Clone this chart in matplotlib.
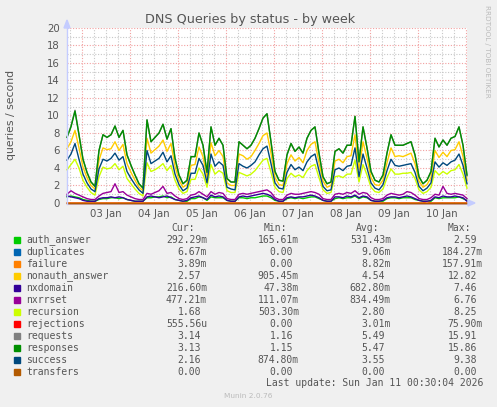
import matplotlib
matplotlib.use("Agg")
import matplotlib.pyplot as plt
from matplotlib.patches import Rectangle, Polygon

# one sample every 2 hours, starting Jan 2 16:30, ending Jan 11 00:30
step_hours = 2
responses = [7.5, 8.7, 10.5, 7.8, 5.0, 3.5, 2.4, 1.9, 6.0, 7.8, 7.5, 7.8, 8.8, 7.5, 8.3, 5.5, 4.3, 3.2, 2.2, 1.7,
             9.5, 7.0, 7.5, 8.0, 9.0, 7.3, 8.5, 5.1, 3.2, 2.2, 2.6, 5.3, 5.3, 8.0, 6.6, 3.5, 8.7, 6.6, 7.4, 6.6,
             2.8, 2.4, 2.4, 7.0, 6.6, 6.2, 6.6, 7.4, 8.5, 9.7, 10.2, 7.0, 3.6, 2.6, 2.5, 5.5, 6.8, 5.9, 6.4, 5.7,
             7.4, 8.3, 8.7, 5.7, 3.0, 2.2, 2.4, 5.9, 6.2, 5.7, 6.6, 6.6, 9.9, 4.7, 8.7, 6.3, 3.6, 2.6, 2.4, 3.2,
             5.7, 7.8, 6.6, 6.6, 6.6, 6.8, 7.0, 5.5, 3.0, 2.2, 2.6, 3.6, 7.4, 6.4, 7.2, 6.6, 7.4, 7.6, 8.7, 6.6, 3.2]
requests = [7.5, 8.8, 10.6, 7.8, 5.0, 3.5, 2.4, 1.9, 6.0, 7.8, 7.5, 7.8, 8.8, 7.5, 8.3, 5.5, 4.3, 3.2, 2.2, 1.7,
            9.5, 7.0, 7.5, 8.0, 9.0, 7.3, 8.5, 5.1, 3.2, 2.2, 2.6, 5.3, 5.3, 8.0, 6.6, 3.5, 8.7, 6.6, 7.4, 6.6,
            2.8, 2.4, 2.4, 7.0, 6.6, 6.2, 6.6, 7.4, 8.5, 9.7, 10.2, 7.0, 3.6, 2.6, 2.5, 5.5, 6.8, 5.9, 6.4, 5.7,
            7.4, 8.3, 8.7, 5.7, 3.0, 2.2, 2.4, 5.9, 6.2, 5.7, 6.6, 6.6, 9.9, 4.7, 8.7, 6.3, 3.6, 2.6, 2.4, 3.2,
            5.7, 7.8, 6.6, 6.6, 6.6, 6.8, 7.0, 5.5, 3.0, 2.2, 2.6, 3.6, 7.4, 6.4, 7.2, 6.6, 7.4, 7.6, 8.7, 6.6, 3.1]
nonauth_answer = [6.2, 7.0, 8.3, 6.3, 4.1, 2.9, 2.0, 1.6, 4.9, 6.3, 6.1, 6.2, 7.0, 6.0, 6.7, 4.5, 3.5, 2.6, 1.8, 1.4,
                  7.4, 5.7, 6.1, 6.5, 7.2, 5.9, 6.8, 4.2, 2.6, 1.8, 2.1, 4.3, 4.4, 6.4, 5.3, 2.9, 6.9, 5.4, 6.0, 5.3,
                  2.3, 2.0, 2.0, 5.6, 5.4, 5.0, 5.3, 6.0, 6.8, 7.7, 8.0, 5.7, 2.9, 2.1, 2.0, 4.5, 5.5, 4.8, 5.2, 4.6,
                  6.0, 6.7, 7.0, 4.6, 2.5, 1.8, 2.0, 4.8, 5.0, 4.6, 5.3, 5.4, 7.8, 3.8, 7.0, 5.1, 2.9, 2.1, 2.0, 2.6,
                  4.6, 6.3, 5.3, 5.4, 5.3, 5.5, 5.7, 4.5, 2.5, 1.8, 2.1, 2.9, 6.0, 5.2, 5.8, 5.3, 6.0, 6.1, 7.0, 5.3, 2.6]
success = [4.9, 5.6, 6.8, 5.0, 3.3, 2.3, 1.6, 1.3, 3.9, 5.0, 4.8, 5.1, 5.7, 4.9, 5.3, 3.6, 2.8, 2.1, 1.5, 1.1,
           6.0, 4.5, 4.8, 5.1, 5.8, 4.7, 5.4, 3.3, 2.1, 1.4, 1.7, 3.4, 3.4, 5.1, 4.3, 2.3, 5.6, 4.2, 4.7, 4.3,
           1.8, 1.6, 1.5, 4.5, 4.2, 4.0, 4.3, 4.7, 5.5, 6.2, 6.5, 4.5, 2.3, 1.7, 1.6, 3.5, 4.4, 3.8, 4.1, 3.7,
           4.7, 5.3, 5.6, 3.7, 1.9, 1.4, 1.5, 3.8, 4.0, 3.7, 4.2, 4.3, 6.3, 3.0, 5.6, 4.0, 2.3, 1.7, 1.5, 2.1,
           3.7, 5.0, 4.3, 4.2, 4.3, 4.4, 4.5, 3.5, 1.9, 1.4, 1.7, 2.3, 4.7, 4.1, 4.6, 4.3, 4.7, 4.9, 5.6, 4.3, 2.2]
recursion = [3.8, 4.4, 5.0, 4.0, 2.6, 1.8, 1.2, 0.9, 3.0, 4.1, 3.9, 4.0, 4.5, 3.8, 4.2, 2.8, 2.2, 1.6, 1.1, 0.8,
             4.6, 3.6, 3.8, 4.1, 4.5, 3.7, 4.3, 2.6, 1.6, 1.1, 1.3, 2.7, 2.7, 4.0, 3.3, 1.8, 4.4, 3.3, 3.7, 3.4,
             1.4, 1.2, 1.2, 3.5, 3.3, 3.1, 3.3, 3.7, 4.3, 4.9, 5.1, 3.5, 1.8, 1.3, 1.2, 2.8, 3.4, 3.0, 3.2, 2.9,
             3.7, 4.2, 4.4, 2.9, 1.5, 1.1, 1.2, 3.0, 3.1, 2.9, 3.3, 3.3, 4.9, 2.4, 4.4, 3.2, 1.8, 1.3, 1.2, 1.6,
             2.9, 3.9, 3.3, 3.3, 3.4, 3.4, 3.5, 2.8, 1.5, 1.1, 1.3, 1.8, 3.7, 3.2, 3.6, 3.3, 3.7, 3.8, 4.4, 3.3, 1.7]
nxrrset = [1.0, 1.4, 1.1, 0.9, 0.7, 0.5, 0.4, 0.4, 0.8, 1.1, 1.2, 1.3, 2.2, 1.2, 1.3, 0.9, 0.7, 0.5, 0.4, 0.4,
           1.1, 1.0, 1.2, 1.4, 1.9, 1.1, 1.2, 0.8, 0.5, 0.4, 0.5, 0.9, 1.0, 1.3, 1.0, 0.7, 1.3, 1.0, 1.2, 1.1,
           0.5, 0.4, 0.4, 1.0, 1.1, 1.0, 1.1, 1.2, 1.3, 1.4, 1.5, 1.2, 0.6, 0.4, 0.4, 0.9, 1.1, 1.0, 1.0, 1.1,
           1.2, 1.3, 1.2, 1.0, 0.5, 0.4, 0.4, 1.0, 1.1, 1.0, 1.2, 1.1, 1.4, 1.0, 1.2, 1.1, 0.6, 0.4, 0.4, 0.5,
           0.9, 1.1, 1.0, 0.9, 1.0, 1.3, 1.2, 0.9, 0.5, 0.4, 0.4, 0.6, 1.0, 0.9, 1.9, 1.1, 1.0, 1.1, 1.0, 0.9, 0.5]
nxdomain = [0.8, 0.7, 0.6, 0.5, 0.3, 0.2, 0.2, 0.2, 0.5, 0.6, 0.6, 0.7, 0.6, 0.7, 0.6, 0.4, 0.3, 0.2, 0.2, 0.2,
            0.7, 0.8, 0.7, 0.6, 0.7, 0.8, 0.6, 0.4, 0.3, 0.2, 0.3, 0.6, 0.7, 0.8, 0.6, 0.4, 0.9, 0.7, 0.8, 0.7,
            0.3, 0.2, 0.2, 0.7, 0.8, 0.7, 0.8, 0.9, 1.0, 1.1, 1.0, 0.8, 0.4, 0.2, 0.2, 0.6, 0.7, 0.6, 0.7, 0.7,
            0.8, 0.9, 0.8, 0.6, 0.3, 0.2, 0.2, 0.7, 0.7, 0.6, 0.8, 0.7, 0.9, 0.6, 0.8, 0.7, 0.3, 0.2, 0.2, 0.3,
            0.6, 0.7, 0.7, 0.6, 0.7, 0.8, 0.7, 0.5, 0.3, 0.2, 0.2, 0.3, 0.7, 0.6, 0.8, 0.7, 0.7, 0.8, 0.7, 0.6, 0.2]
auth_answer = [0.7, 0.8, 0.7, 0.6, 0.4, 0.3, 0.2, 0.2, 0.4, 0.5, 0.5, 0.6, 0.6, 0.5, 0.6, 0.4, 0.3, 0.2, 0.2, 0.2,
               0.6, 0.6, 0.7, 0.7, 0.8, 0.6, 0.7, 0.4, 0.3, 0.2, 0.2, 0.5, 0.5, 0.7, 0.6, 0.3, 0.7, 0.6, 0.6, 0.6,
               0.3, 0.2, 0.2, 0.6, 0.6, 0.5, 0.6, 0.6, 0.7, 0.8, 0.8, 0.6, 0.3, 0.2, 0.2, 0.5, 0.6, 0.5, 0.6, 0.5,
               0.6, 0.7, 0.7, 0.5, 0.3, 0.2, 0.2, 0.5, 0.6, 0.5, 0.6, 0.6, 0.8, 0.5, 0.7, 0.6, 0.3, 0.2, 0.2, 0.2,
               0.5, 0.6, 0.6, 0.5, 0.6, 0.6, 0.6, 0.4, 0.3, 0.2, 0.2, 0.2, 0.6, 0.5, 0.6, 0.6, 0.6, 0.6, 0.7, 0.5, 0.3]

# the near-zero series, sampled coarsely
tiny_hours = [0, 40, 80, 120, 160, 178, 180, 182, 200]
duplicates = [0.01, 0.01, 0.01, 0.01, 0.01, 0.01, 0.01, 0.01, 0.01]
failure = [0.01, 0.01, 0.01, 0.01, 0.01, 0.01, 0.15, 0.01, 0.01]
rejections = [0.0, 0.0, 0.0, 0.0, 0.0, 0.0, 0.0, 0.0, 0.0]
transfers = [0.0, 0.0, 0.0, 0.0, 0.0, 0.0, 0.0, 0.0, 0.0]

day_labels = ["03 Jan", "04 Jan", "05 Jan", "06 Jan", "07 Jan", "08 Jan", "09 Jan", "10 Jan"]

legend_rows = [
    ("auth_answer", "#00CC00", "292.29m", "165.61m", "531.43m", "2.59"),
    ("duplicates", "#0066B3", "6.67m", "0.00", "9.06m", "184.27m"),
    ("failure", "#FF8000", "3.89m", "0.00", "8.82m", "157.91m"),
    ("nonauth_answer", "#FFCC00", "2.57", "905.45m", "4.54", "12.82"),
    ("nxdomain", "#330099", "216.60m", "47.38m", "682.80m", "7.46"),
    ("nxrrset", "#990099", "477.21m", "111.07m", "834.49m", "6.76"),
    ("recursion", "#CCFF00", "1.68", "503.30m", "2.80", "8.25"),
    ("rejections", "#FF0000", "555.56u", "0.00", "3.01m", "75.90m"),
    ("requests", "#808080", "3.14", "1.16", "5.49", "15.91"),
    ("responses", "#008F00", "3.13", "1.15", "5.47", "15.86"),
    ("success", "#00487D", "2.16", "874.80m", "3.55", "9.38"),
    ("transfers", "#B35A00", "0.00", "0.00", "0.00", "0.00"),
]

W, H = 497, 407
fig = plt.figure(figsize=(W / 100, H / 100), dpi=100, facecolor="#F0F0F0")

# plot area 400x175 px at (67, 28)
ax = fig.add_axes([67 / W, (H - 203) / H, 400 / W, 175 / H])
ax.set_facecolor("white")
for s in ax.spines.values():
    s.set_visible(False)
ax.set_xlim(0, 200)
ax.set_ylim(0, 20)

# grid: red at midnights / even values, grey every 6 h / odd values
minor_x = [1.5 + 6 * k for k in range(34)]
for xv in minor_x:
    col = "#F2A0A0" if (xv - 7.5) % 24 == 0 else "#C8C8C8"
    ax.axvline(xv, color=col, lw=0.8, ls=(0, (1, 1.5)), zorder=1)
for yv in range(1, 21):
    col = "#F2A0A0" if yv % 2 == 0 else "#C8C8C8"
    ax.axhline(yv, color=col, lw=0.8, ls=(0, (1, 1.5)), zorder=1)

hours = [i * step_hours for i in range(len(responses))]
series = [
    (hours, auth_answer, "#00CC00"),
    (tiny_hours, duplicates, "#0066B3"),
    (tiny_hours, failure, "#FF8000"),
    (hours, nonauth_answer, "#FFCC00"),
    (hours, nxdomain, "#330099"),
    (hours, nxrrset, "#990099"),
    (hours, recursion, "#CCFF00"),
    (tiny_hours, rejections, "#FF0000"),
    (hours, requests, "#808080"),
    (hours, responses, "#008F00"),
    (hours, success, "#00487D"),
    (tiny_hours, transfers, "#B35A00"),
]
for xs, ys, c in series:
    ax.plot(xs, ys, color=c, lw=1.0, zorder=3, clip_on=False)

ax.set_yticks(range(0, 21, 2))
ax.set_yticklabels([str(v) for v in range(0, 21, 2)])
ax.set_xticks([19.5 + 24 * k for k in range(len(day_labels))])
ax.set_xticklabels(day_labels)
ax.tick_params(axis="both", length=0, labelsize=7.3, labelcolor="#555555")
ax.tick_params(axis="y", pad=5)
ax.tick_params(axis="x", pad=4)

# overlay in pixel coordinates for the text around the graph
ov = fig.add_axes([0, 0, 1, 1], zorder=5)
ov.set_xlim(0, W)
ov.set_ylim(H, 0)
ov.axis("off")

axis_col = "#C4CCFF"
ov.plot([67, 67], [204, 27], color=axis_col, lw=1.0)
ov.add_patch(Polygon([[64, 28], [70, 28], [67, 20]], closed=True, color=axis_col))
ov.add_patch(Polygon([[468, 200], [468, 206], [475, 203]], closed=True, color=axis_col))

ov.text(250, 19, "DNS Queries by status - by week", ha="center", va="center",
        fontsize=9.2, color="#555555")
ov.text(11, 115, "queries / second", rotation=90, ha="center", va="center",
        fontsize=7.8, color="#555555")
ov.text(487, 5, "RRDTOOL / TOBI OETIKER", rotation=270, ha="center", va="top",
        fontsize=5.2, color="#BBBBBB")

mono = "DejaVu Sans Mono"
txt_col = "#555555"
fs = 7.0
col_right = [207, 299, 391, 483]
for hdr, r in zip(["Cur:", "Min:", "Avg:", "Max:"], col_right):
    ov.text(r - 12, 228, hdr, ha="right", va="center", family=mono, fontsize=fs, color=txt_col)

for k, (name, color, *vals) in enumerate(legend_rows):
    yy = 240 + 12 * k
    ov.add_patch(Rectangle((14, yy - 3), 6, 6, color=color))
    ov.text(26.5, yy, name, ha="left", va="center", family=mono, fontsize=fs, color=txt_col)
    for v, r in zip(vals, col_right):
        xr = r if v[-1].isalpha() else r - 6
        ov.text(xr, yy, v, ha="right", va="center", family=mono, fontsize=fs, color=txt_col)

ov.text(483, 383.5, "Last update: Sun Jan 11 00:30:04 2026", ha="right", va="center",
        family=mono, fontsize=fs, color=txt_col)
ov.text(248, 396, "Munin 2.0.76", ha="center", va="center", fontsize=5.3, color="#BBBBBB")

fig.savefig("out.png", dpi=100, facecolor=fig.get_facecolor())
